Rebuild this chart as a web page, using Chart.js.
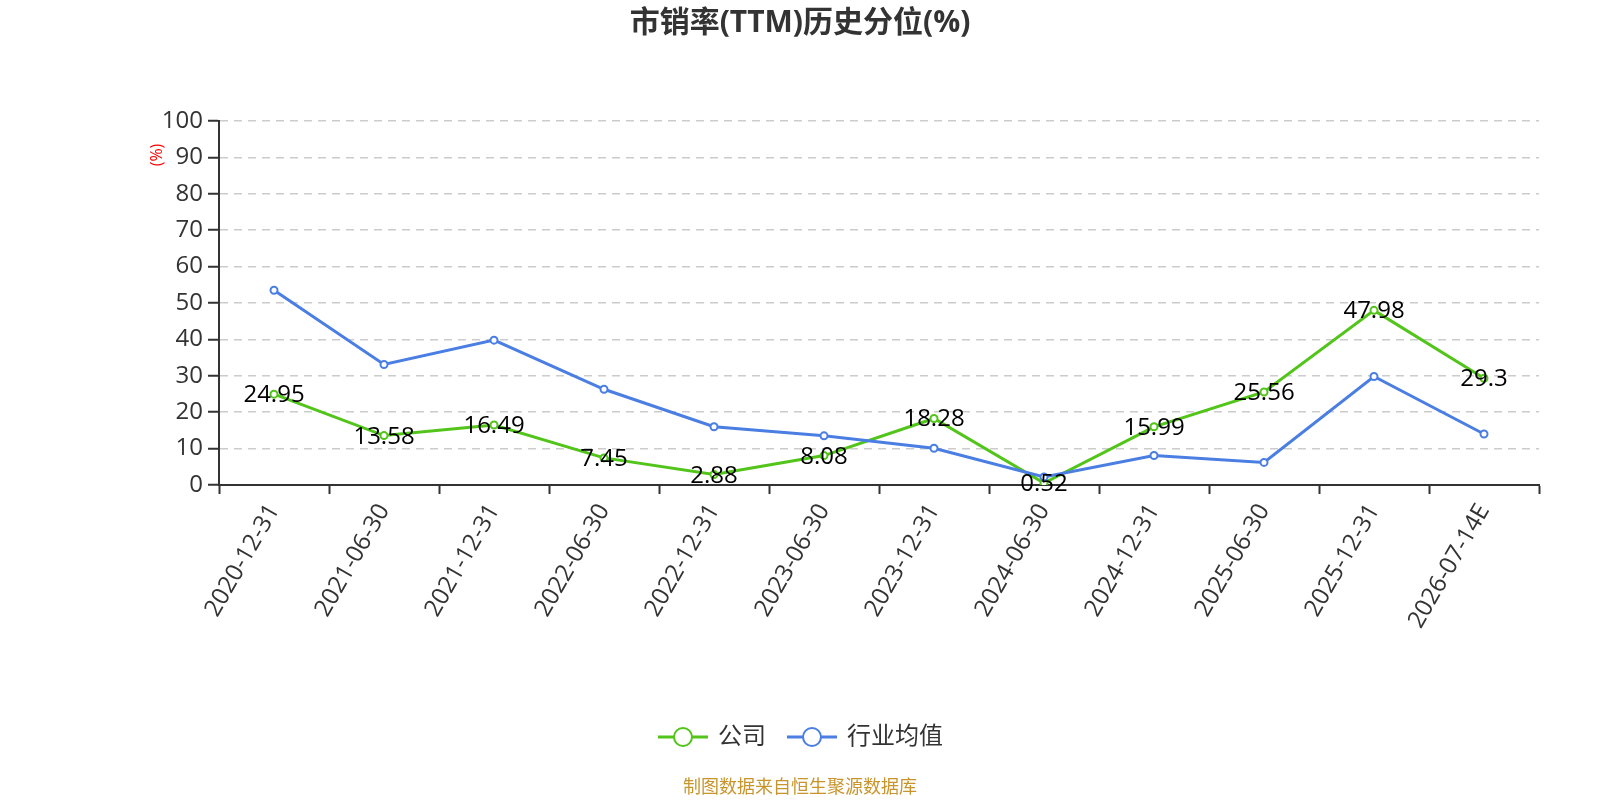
<!DOCTYPE html>
<html>
<head>
<meta charset="utf-8">
<script src="https://cdn.jsdelivr.net/npm/chart.js@4.4.1/dist/chart.umd.min.js"></script>
<style>
  html, body { margin: 0; padding: 0; background: #fff; }
  #wrap { width: 1600px; height: 800px; }
</style>
</head>
<body>
<div id="wrap"><canvas id="chart" width="1600" height="800"></canvas></div>
<script>
// chart data
const dates = ['2020-12-31', '2021-06-30', '2021-12-31', '2022-06-30', '2022-12-31', '2023-06-30',
               '2023-12-31', '2024-06-30', '2024-12-31', '2025-06-30', '2025-12-31', '2026-07-14E'];
const companyValues = [24.95, 13.58, 16.49, 7.45, 2.88, 8.08, 18.28, 0.52, 15.99, 25.56, 47.98, 29.3];
const industryValues = [53.5, 33.1, 39.8, 26.3, 16.0, 13.5, 10.1, 2.2, 8.1, 6.2, 29.8, 14.0];
const yTicks = [0, 10, 20, 30, 40, 50, 60, 70, 80, 90, 100];

const GREEN = '#52c41a';
const BLUE = '#4a7ee3';
const FONT = '"Open Sans", "Noto Sans CJK SC", sans-serif';

// title, y-axis unit, legend and source note
const decorPlugin = {
    id: 'decor',
    afterDraw(chart) {
        const ctx = chart.ctx;
        ctx.save();

        ctx.fillStyle = '#333';
        ctx.font = 'bold 30px ' + FONT;
        ctx.textAlign = 'center';
        ctx.textBaseline = 'middle';
        ctx.fillText('市销率(TTM)历史分位(%)', 800, 23);

        ctx.save();
        ctx.translate(157, 155);
        ctx.rotate(-Math.PI / 2);
        ctx.fillStyle = '#ff0000';
        ctx.font = '16px ' + FONT;
        ctx.fillText('(%)', 0, 0);
        ctx.restore();

        const items = [
            { text: '公司', color: GREEN, x: 658 },
            { text: '行业均值', color: BLUE, x: 787 }
        ];
        const ly = 737;
        items.forEach(it => {
            ctx.strokeStyle = it.color;
            ctx.lineWidth = 3;
            ctx.beginPath();
            ctx.moveTo(it.x, ly);
            ctx.lineTo(it.x + 50, ly);
            ctx.stroke();
            ctx.beginPath();
            ctx.arc(it.x + 25, ly, 9, 0, Math.PI * 2);
            ctx.fillStyle = '#fff';
            ctx.fill();
            ctx.lineWidth = 2;
            ctx.stroke();
            ctx.fillStyle = '#333';
            ctx.font = '24px ' + FONT;
            ctx.textAlign = 'left';
            ctx.fillText(it.text, it.x + 60, ly);
        });

        ctx.fillStyle = '#c8952c';
        ctx.font = '18px ' + FONT;
        ctx.textAlign = 'center';
        ctx.fillText('制图数据来自恒生聚源数据库', 800, 788);
        ctx.restore();
    }
};

// value labels on the company line
const labelPlugin = {
    id: 'valueLabels',
    afterDatasetsDraw(chart) {
        const ctx = chart.ctx;
        const meta = chart.getDatasetMeta(0);
        ctx.save();
        ctx.fillStyle = '#000';
        ctx.font = '24px ' + FONT;
        ctx.textAlign = 'center';
        ctx.textBaseline = 'alphabetic';
        meta.data.forEach((pt, i) => {
            ctx.fillText(String(companyValues[i]), pt.x, pt.y + 8);
        });
        ctx.restore();
    }
};

new Chart(document.getElementById('chart').getContext('2d'), {
    type: 'line',
    data: {
        labels: dates,
        datasets: [{
            label: '公司',
            data: companyValues,
            borderColor: GREEN,
            backgroundColor: '#fff',
            borderWidth: 3,
            pointRadius: 3.5,
            pointBorderWidth: 2,
            pointBorderColor: GREEN,
            pointBackgroundColor: '#fff',
            tension: 0,
            order: 1
        }, {
            label: '行业均值',
            data: industryValues,
            borderColor: BLUE,
            backgroundColor: '#fff',
            borderWidth: 3,
            pointRadius: 3.5,
            pointBorderWidth: 2,
            pointBorderColor: BLUE,
            pointBackgroundColor: '#fff',
            tension: 0,
            order: 0
        }]
    },
    options: {
        responsive: false,
        animation: false,
        layout: { padding: { left: 0, right: 61, top: 121, bottom: 115 } },
        plugins: {
            legend: { display: false },
            title: { display: false },
            tooltip: { enabled: false }
        },
        scales: {
            x: {
                offset: true,
                afterFit(scale) { scale.height = 200; },
                grid: {
                    offset: true,
                    drawOnChartArea: false,
                    drawTicks: true,
                    tickLength: 9,
                    tickColor: '#333',
                    tickWidth: 2
                },
                border: { display: true, color: '#333', width: 2 },
                ticks: {
                    color: '#333',
                    font: { family: FONT, size: 24 },
                    minRotation: 60,
                    maxRotation: 60,
                    padding: 5,
                    autoSkip: false
                }
            },
            y: {
                min: 0,
                max: 100,
                afterFit(scale) { scale.width = 219; },
                afterBuildTicks(scale) { scale.ticks = yTicks.map(v => ({ value: v })); },
                grid: {
                    color: '#cccccc',
                    lineWidth: 1.5,
                    drawTicks: true,
                    tickLength: 11,
                    tickColor: '#333',
                    tickWidth: 2
                },
                border: { display: true, color: '#333', width: 2, dash: [8, 6] },
                ticks: {
                    color: '#333',
                    font: { family: FONT, size: 24 },
                    padding: 5
                }
            }
        }
    },
    plugins: [labelPlugin, decorPlugin]
});
</script>
</body>
</html>
